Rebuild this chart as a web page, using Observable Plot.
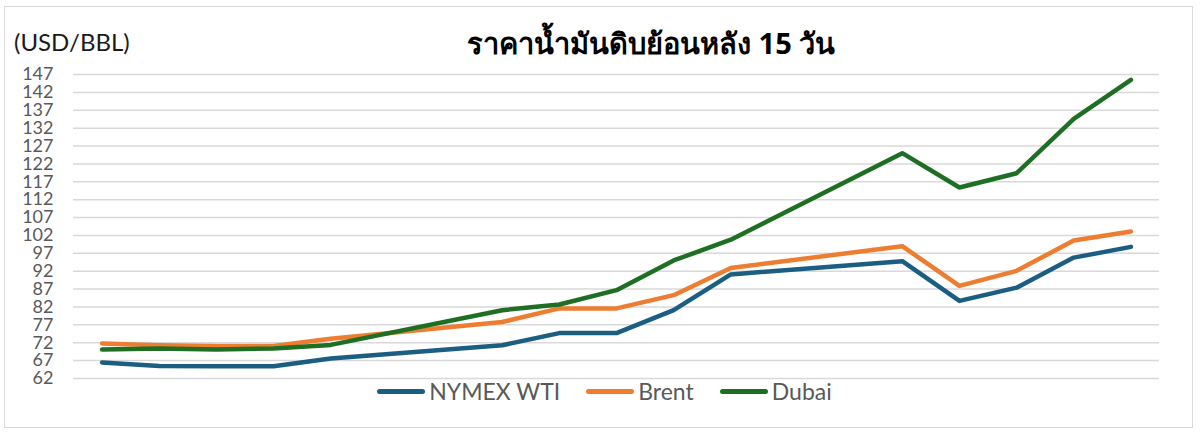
<!DOCTYPE html>
<html>
<head>
<meta charset="utf-8">
<script src="https://cdn.jsdelivr.net/npm/d3@7"></script>
<script src="https://cdn.jsdelivr.net/npm/@observablehq/plot@0.6"></script>
<style>
  html, body { margin: 0; padding: 0; background: #fff; }
  body { width: 1200px; height: 437px; position: relative; overflow: hidden; font-family: Lato, "Noto Sans", sans-serif; }
  #frame { position: absolute; left: 4px; top: 6px; width: 1187px; height: 420px; border: 1px solid #d9d9d9; }
  #header { position: relative; height: 57px; }
  #unit { position: absolute; left: 9px; top: 22px; font-size: 24px; line-height: 26px; color: #1a1a1a; }
  #title { position: absolute; left: 462px; top: 19px; font-size: 29px; line-height: 34px; font-weight: bold; color: #000; white-space: nowrap; font-family: "Noto Sans", "DejaVu Sans", sans-serif; }
  #chart svg { display: block; }
  #legend { display: flex; justify-content: center; align-items: center; height: 22px; margin-top: 0px; font-size: 23px; color: #595959; padding-left: 12px; }
  .item { display: flex; align-items: center; margin: 0 13px; }
  .sw { width: 48px; height: 5px; border-radius: 3px; margin-right: 4px; }
</style>
</head>
<body>
<div id="frame">
  <div id="header">
    <div id="unit">(USD/BBL)</div>
    <div id="title">ราคาน้ำมันดิบย้อนหลัง 15 วัน</div>
  </div>
  <div id="chart"></div>
  <div id="legend"></div>
</div>
<script>
// Calendar day offsets of the 15 trading days (weekend gaps kept on the axis)
const days = [0, 1, 2, 3, 4, 7, 8, 9, 10, 11, 14, 15, 16, 17, 18];
const seriesNames = ["NYMEX WTI", "Brent", "Dubai"];
const seriesColors = ["#1b5e82", "#ed7d31", "#1e6e24"];
const wti   = [66.5, 65.5, 65.4, 65.4, 67.6, 71.3, 74.7, 74.7, 81.1, 91.1, 94.8, 83.7, 87.4, 95.8, 98.8];
const brent = [71.8, 71.3, 71.1, 71.1, 73.1, 77.8, 81.6, 81.6, 85.3, 92.9, 99.0, 87.9, 92.1, 100.6, 103.1];
const dubai = [70.1, 70.4, 70.1, 70.4, 71.4, 81.1, 82.7, 86.7, 95.0, 100.8, 125.0, 115.4, 119.4, 134.6, 145.5];
const yTicks = [62, 67, 72, 77, 82, 87, 92, 97, 102, 107, 112, 117, 122, 127, 132, 137, 142, 147];

const valuesBySeries = [wti, brent, dubai];
const data = [];
seriesNames.forEach((name, s) => {
  days.forEach((d, i) => data.push({ series: name, day: d, value: valuesBySeries[s][i] }));
});

const chart = Plot.plot({
  width: 1187,
  height: 316,
  marginTop: 10,
  marginBottom: 2,
  marginLeft: 68,
  marginRight: 33,
  style: { fontFamily: "Lato, 'Noto Sans', sans-serif", fontSize: "18px", color: "#595959", background: "#fff", overflow: "visible" },
  x: { domain: [-0.5, 18.5], axis: null },
  y: { domain: [62, 147], ticks: yTicks, tickSize: 0, tickPadding: 20, label: null },
  color: { domain: seriesNames, range: seriesColors },
  marks: [
    Plot.ruleY(yTicks, { stroke: "#d9d9d9", strokeWidth: 1.5 }),
    Plot.line(data, { x: "day", y: "value", z: "series", stroke: "series", strokeWidth: 4.5, strokeLinejoin: "round", strokeLinecap: "round" })
  ]
});
document.getElementById("chart").appendChild(chart);

const legend = document.getElementById("legend");
seriesNames.forEach((name, i) => {
  const it = document.createElement("div");
  it.className = "item";
  const sw = document.createElement("div");
  sw.className = "sw";
  sw.style.background = seriesColors[i];
  const tx = document.createElement("span");
  tx.textContent = name;
  it.appendChild(sw);
  it.appendChild(tx);
  legend.appendChild(it);
});
</script>
</body>
</html>
